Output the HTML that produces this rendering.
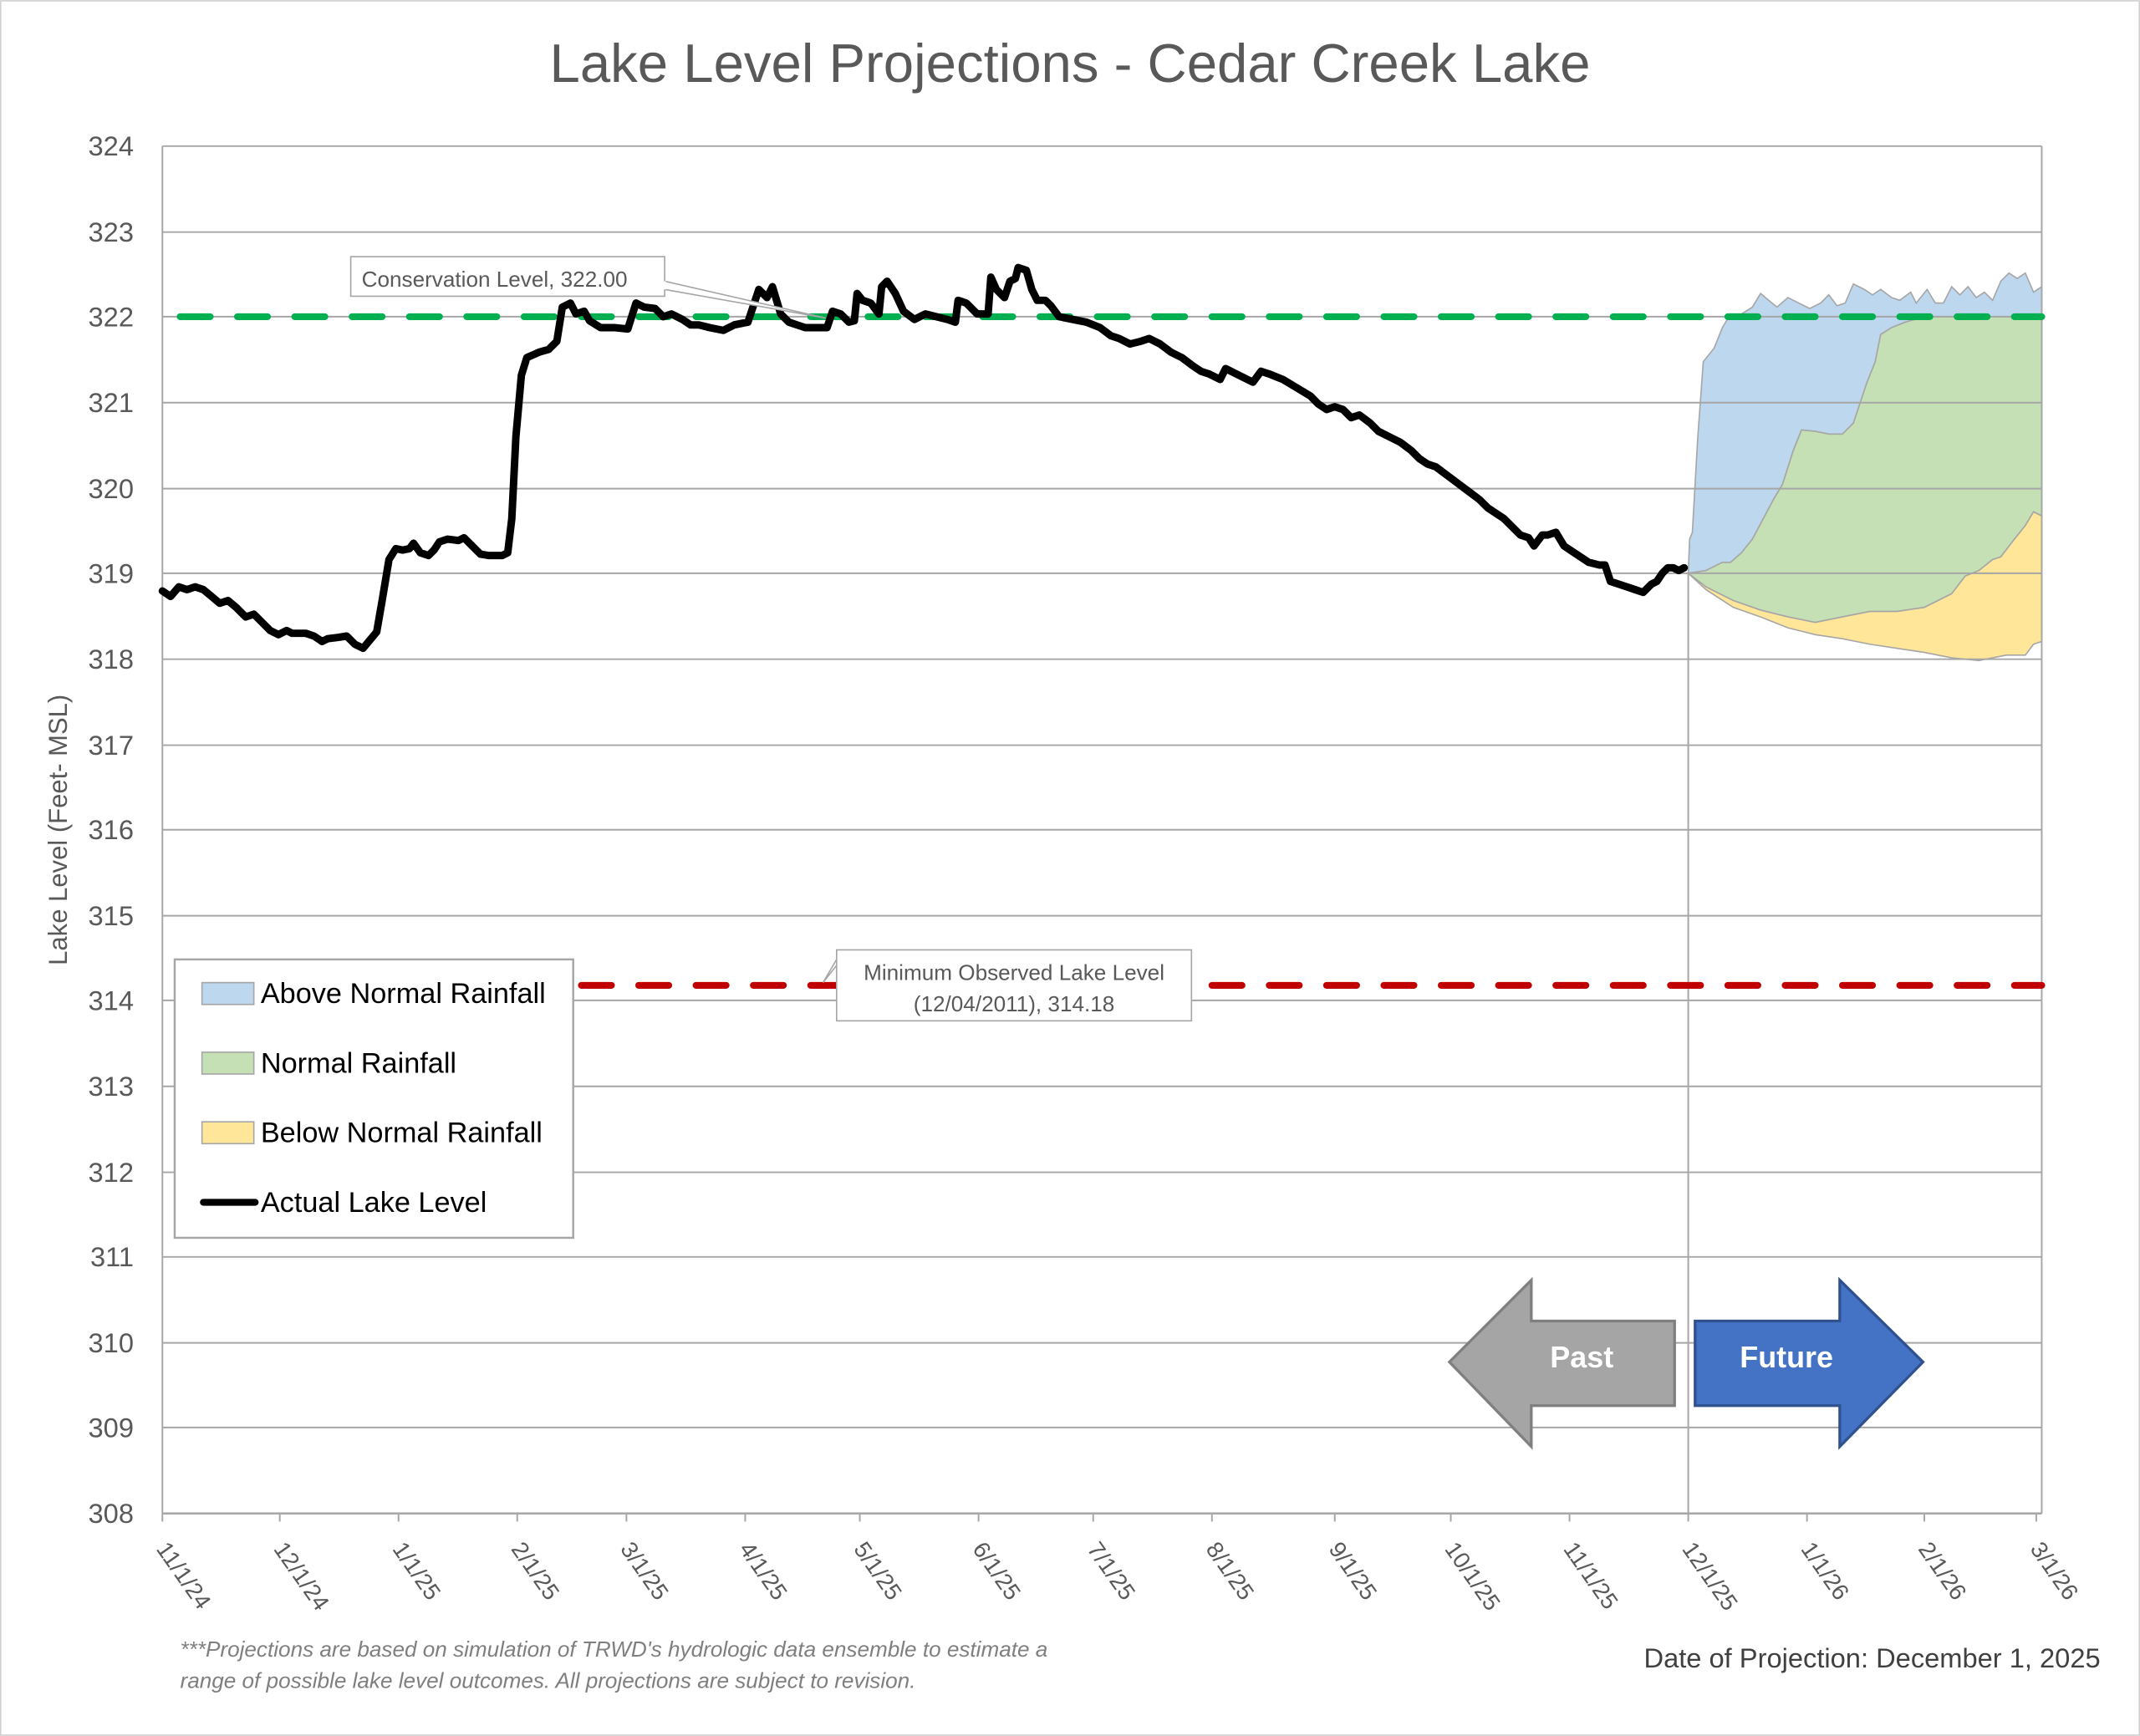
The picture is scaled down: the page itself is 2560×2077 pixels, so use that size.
<!DOCTYPE html>
<html><head><meta charset="utf-8"><style>html,body{margin:0;padding:0;background:#fff}svg{display:block}</style></head>
<body>
<svg width="2560" height="2077" viewBox="0 0 1568 1272" xmlns="http://www.w3.org/2000/svg" font-family="Liberation Sans, sans-serif">
<rect x="0.5" y="0.5" width="1567" height="1271" fill="#fff" stroke="#d0d0d0" stroke-width="1"/>
<text x="784" y="60" text-anchor="middle" font-size="40" fill="#595959">Lake Level Projections - Cedar Creek Lake</text>
<polygon fill="#bdd7ee" stroke="#a6a6a6" stroke-width="1" points="1237,420 1238,395 1240,390 1244,320 1248,265 1256,255 1262,240 1268,230 1276,230 1284,225 1290,215 1296,220 1302,225 1310,218 1318,222 1326,226 1334,222 1340,216 1346,224 1352,222 1358,208 1366,212 1372,216 1378,212 1386,218 1392,220 1400,214 1404,222 1412,212 1418,222 1424,222 1430,210 1436,216 1442,210 1448,218 1454,214 1460,220 1466,206 1472,200 1478,204 1484,200 1490,214 1496,210 1496,232 1410,232 1396,236 1386,240 1378,245 1374,265 1368,280 1362,298 1358,310 1350,318 1340,318 1330,316 1320,315 1314,330 1306,355 1300,365 1292,380 1284,395 1276,405 1268,412 1262,412 1256,415 1250,418"/>
<polygon fill="#c5e0b4" stroke="#a6a6a6" stroke-width="1" points="1237,420 1250,418 1256,415 1262,412 1268,412 1276,405 1284,395 1292,380 1300,365 1306,355 1314,330 1320,315 1330,316 1340,318 1350,318 1358,310 1362,298 1368,280 1374,265 1378,245 1386,240 1396,236 1410,232 1496,232 1496,378 1490,375 1484,385 1476,395 1466,408 1460,410 1450,418 1440,422 1430,435 1420,440 1410,445 1390,448 1370,448 1350,452 1330,456 1310,452 1290,447 1270,440 1250,430"/>
<polygon fill="#ffe699" stroke="#a6a6a6" stroke-width="1" points="1237,420 1250,430 1270,440 1290,447 1310,452 1330,456 1350,452 1370,448 1390,448 1410,445 1420,440 1430,435 1440,422 1450,418 1460,410 1466,408 1476,395 1484,385 1490,375 1496,378 1496,470 1490,472 1484,480 1470,480 1450,484 1430,482 1410,478 1390,475 1370,472 1350,468 1330,465 1310,460 1290,452 1270,445 1250,432"/>
<g stroke="#a6a6a6" stroke-width="1.2">
<line x1="119" y1="107" x2="1496" y2="107"/><line x1="119" y1="170" x2="1496" y2="170"/><line x1="119" y1="232" x2="1496" y2="232"/><line x1="119" y1="295" x2="1496" y2="295"/><line x1="119" y1="358" x2="1496" y2="358"/><line x1="119" y1="420" x2="1496" y2="420"/><line x1="119" y1="483" x2="1496" y2="483"/><line x1="119" y1="546" x2="1496" y2="546"/><line x1="119" y1="608" x2="1496" y2="608"/><line x1="119" y1="671" x2="1496" y2="671"/><line x1="119" y1="733" x2="1496" y2="733"/><line x1="119" y1="796" x2="1496" y2="796"/><line x1="119" y1="859" x2="1496" y2="859"/><line x1="119" y1="921" x2="1496" y2="921"/><line x1="119" y1="984" x2="1496" y2="984"/><line x1="119" y1="1046" x2="1496" y2="1046"/>
<line x1="119" y1="107" x2="119" y2="1109"/><line x1="1496" y1="107" x2="1496" y2="1109"/><line x1="1237" y1="420" x2="1237" y2="1109"/>
<line x1="119" y1="1109" x2="1496" y2="1109" stroke-width="1.6"/>
<path d="M119 1109v6M205 1109v6M292 1109v6M379 1109v6M459 1109v6M546 1109v6M630 1109v6M717 1109v6M801 1109v6M888 1109v6M978 1109v6M1063 1109v6M1150 1109v6M1237 1109v6M1324 1109v6M1410 1109v6M1492 1109v6"/>
</g>
<g font-size="20" fill="#595959" text-anchor="end">
<text x="98" y="114">324</text><text x="98" y="177">323</text><text x="98" y="239">322</text><text x="98" y="302">321</text><text x="98" y="365">320</text><text x="98" y="427">319</text><text x="98" y="490">318</text><text x="98" y="553">317</text><text x="98" y="615">316</text><text x="98" y="678">315</text><text x="98" y="740">314</text><text x="98" y="803">313</text><text x="98" y="866">312</text><text x="98" y="928">311</text><text x="98" y="991">310</text><text x="98" y="1053">309</text><text x="98" y="1116">308</text>
</g>
<text transform="translate(49,608) rotate(-90)" text-anchor="middle" font-size="19" fill="#595959">Lake Level (Feet- MSL)</text>
<g font-size="17" fill="#595959">
<text transform="translate(114,1135) rotate(55)">11/1/24</text>
<text transform="translate(200,1135) rotate(55)">12/1/24</text>
<text transform="translate(287,1135) rotate(55)">1/1/25</text>
<text transform="translate(374,1135) rotate(55)">2/1/25</text>
<text transform="translate(454,1135) rotate(55)">3/1/25</text>
<text transform="translate(541,1135) rotate(55)">4/1/25</text>
<text transform="translate(625,1135) rotate(55)">5/1/25</text>
<text transform="translate(712,1135) rotate(55)">6/1/25</text>
<text transform="translate(796,1135) rotate(55)">7/1/25</text>
<text transform="translate(883,1135) rotate(55)">8/1/25</text>
<text transform="translate(973,1135) rotate(55)">9/1/25</text>
<text transform="translate(1058,1135) rotate(55)">10/1/25</text>
<text transform="translate(1145,1135) rotate(55)">11/1/25</text>
<text transform="translate(1232,1135) rotate(55)">12/1/25</text>
<text transform="translate(1319,1135) rotate(55)">1/1/26</text>
<text transform="translate(1405,1135) rotate(55)">2/1/26</text>
<text transform="translate(1487,1135) rotate(55)">3/1/26</text>
</g>
<line x1="132" y1="232" x2="1496" y2="232" stroke="#00b050" stroke-width="5" stroke-dasharray="22,20" stroke-linecap="round"/>
<line x1="132" y1="722" x2="1496" y2="722" stroke="#c00000" stroke-width="5" stroke-dasharray="22,20" stroke-linecap="round"/>
<polyline fill="none" stroke="#000" stroke-width="5.5" stroke-linejoin="round" stroke-linecap="round" points="119,433 125,437 131,430 137,432 143,430 149,432 155,437 161,442 167,440 173,445 180,452 186,450 192,456 198,462 204,465 210,462 214,464 224,464 230,466 236,470 240,468 248,467 254,466 260,472 266,475 271,469 276,463 280,440 285,410 290,402 295,403 300,402 303,398 308,405 314,407 318,403 322,397 328,395 336,396 340,394 346,400 352,406 358,407 364,407 368,407 372,405 375,380 378,320 382,275 386,262 395,258 402,256 408,250 412,225 418,222 422,230 428,228 432,235 440,240 450,240 460,241 466,222 472,225 480,226 486,232 492,230 500,234 506,238 512,238 520,240 530,242 538,238 548,236 556,212 562,218 566,210 572,230 578,236 584,238 590,240 600,240 606,240 610,228 616,230 622,236 626,235 628,215 632,220 638,222 644,230 646,210 650,206 656,215 662,228 670,234 678,230 686,232 694,234 700,236 702,220 708,222 716,230 724,230 726,203 730,212 736,218 740,206 744,204 746,196 752,198 756,212 760,220 766,220 770,224 776,232 786,234 796,236 806,240 814,246 820,248 828,252 836,250 842,248 850,252 858,258 866,262 874,268 880,272 886,274 894,278 898,270 906,274 914,278 918,280 924,272 930,274 940,278 950,284 960,290 966,296 972,300 978,298 984,300 990,306 996,304 1004,310 1010,316 1018,320 1026,324 1034,330 1040,336 1046,340 1052,342 1060,348 1068,354 1076,360 1084,366 1090,372 1096,376 1102,380 1108,386 1114,392 1120,394 1124,400 1130,392 1134,392 1140,390 1146,400 1152,404 1158,408 1164,412 1172,414 1176,414 1180,426 1186,428 1192,430 1198,432 1204,434 1210,428 1214,426 1218,420 1222,416 1226,416 1230,418 1234,416"/>
<polygon points="487,206 605,233 487,212" fill="#fff" stroke="#a6a6a6"/>
<rect x="257" y="188" width="230" height="29" fill="#fff" stroke="#a6a6a6"/>
<line x1="487" y1="206" x2="487" y2="212" stroke="#fff" stroke-width="2"/>
<text x="265" y="210" font-size="16" fill="#595959">Conservation Level, 322.00</text>
<polygon points="613,703 603,720 622,696" fill="#fff" stroke="#a6a6a6"/>
<rect x="613" y="696" width="260" height="52" fill="#fff" stroke="#a6a6a6"/>
<text x="743" y="718" text-anchor="middle" font-size="16" fill="#595959">Minimum Observed Lake Level</text>
<text x="743" y="741" text-anchor="middle" font-size="16" fill="#595959">(12/04/2011), 314.18</text>
<rect x="128" y="703" width="292" height="204" fill="#fff" stroke="#a6a6a6" stroke-width="1.5"/>
<rect x="148" y="720" width="38" height="16" fill="#bdd7ee" stroke="#a6a6a6"/>
<rect x="148" y="771" width="38" height="16" fill="#c5e0b4" stroke="#a6a6a6"/>
<rect x="148" y="822" width="38" height="16" fill="#ffe699" stroke="#a6a6a6"/>
<line x1="149" y1="881" x2="187" y2="881" stroke="#000" stroke-width="5" stroke-linecap="round"/>
<g font-size="21" fill="#000"><text x="191" y="735">Above Normal Rainfall</text><text x="191" y="786">Normal Rainfall</text><text x="191" y="837">Below Normal Rainfall</text><text x="191" y="888">Actual Lake Level</text></g>
<polygon points="1062,998 1122,938 1122,968 1227,968 1227,1030 1122,1030 1122,1060" fill="#a5a5a5" stroke="#7f7f7f" stroke-width="2"/>
<text x="1159" y="1002" text-anchor="middle" font-size="22" font-weight="bold" fill="#fff">Past</text>
<polygon points="1242,968 1348,968 1348,938 1409,998 1348,1060 1348,1030 1242,1030" fill="#4472c4" stroke="#2f528f" stroke-width="2"/>
<text x="1309" y="1002" text-anchor="middle" font-size="22" font-weight="bold" fill="#fff">Future</text>
<text x="132" y="1214" font-size="16" font-style="italic" fill="#7f7f7f">***Projections are based on simulation of TRWD's hydrologic data ensemble to estimate a</text>
<text x="132" y="1237" font-size="16" font-style="italic" fill="#7f7f7f">range of possible lake level outcomes.  All projections are subject to revision.</text>
<text x="1539" y="1222" text-anchor="end" font-size="20" fill="#404040">Date of Projection: December 1, 2025</text>
</svg>
</body></html>
